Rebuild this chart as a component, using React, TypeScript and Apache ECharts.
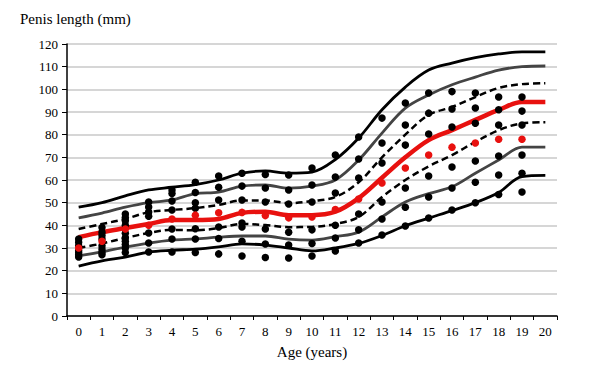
import React, { useEffect, useRef } from "react";
import * as echarts from "echarts";

const ages = ["0","1","2","3","4","5","6","7","8","9","10","11","12","13","14","15","16","17","18","19","20"];
const yTicks = { min: 0, max: 120, interval: 10 };

const p97 = [48, 50, 53, 55.6, 56.8, 58, 60, 63, 64, 63, 63.5, 69, 78.5, 91, 101, 108.5, 111.6, 114, 115.6, 116.5, 116.5];
const p90 = [43.3, 45.4, 48, 50, 51.2, 54, 54.7, 57.3, 57.8, 56.4, 57.3, 60, 68.8, 80.7, 91.7, 97.5, 102, 105.4, 108.5, 110, 110.3];
const p75 = [38.4, 40.6, 42.8, 45.8, 46.8, 47.6, 49, 51, 51, 49.8, 50.7, 52.5, 59, 70, 80, 88.7, 92.2, 96.6, 100.6, 102.3, 102.7];
const p50 = [34.8, 37, 38.8, 40.6, 42.3, 42.3, 42.8, 45.5, 46, 44.5, 44.5, 46, 52, 61, 70, 77.6, 82, 86.5, 90.9, 94.4, 94.4];
const p25 = [30, 32, 34.4, 36.6, 38, 37.8, 38.8, 40.6, 40.1, 39.2, 39.3, 40.6, 43.7, 52.5, 60, 66, 71, 76.8, 82, 85, 85.5];
const p10 = [26.5, 28.3, 30.4, 32.2, 33.5, 34, 34.8, 35.3, 35.3, 33.9, 33.5, 35, 37, 43.7, 50.3, 54, 57, 63, 68.8, 74.5, 74.5];
const p3 = [22, 24.3, 26, 28.2, 29, 29.5, 30.5, 31.8, 31.3, 30, 28.7, 30, 32, 35.5, 39.8, 43.2, 46.5, 50, 54.5, 61.5, 62];

const blackDots: number[][] = [
  [34, 32.5, 31, 29, 28, 27, 26],
  [39, 37, 35.5, 34, 31, 29.5, 28, 27],
  [45, 43.5, 42, 40, 36.5, 34.5, 33, 31.5, 30, 28],
  [50.3, 48.1, 45.9, 44, 36.6, 32.2, 28.2],
  [55.6, 54, 50.7, 46.8, 38.4, 34, 28.2],
  [59, 54.5, 50, 47.5, 38.5, 34, 28],
  [61.8, 56.8, 51.2, 39.3, 34.2, 27.4],
  [63, 57.3, 51.2, 41, 39.3, 33, 26.5],
  [62.4, 56.5, 50.3, 38.4, 31.8, 25.8],
  [62.2, 55.6, 49.4, 37, 31.3, 25.6],
  [65.3, 57.8, 50.3, 38, 32, 26.5],
  [71, 61.3, 54.3, 40, 34.4, 28.7],
  [79, 69.3, 60.9, 45, 38, 32.2],
  [87.3, 76.3, 67.5, 50.3, 42.8, 35.7],
  [94, 84.3, 75.4, 56.5, 48, 39.7],
  [98.4, 89.5, 80.3, 61.8, 52.5, 43.2],
  [99, 91.3, 83.4, 65.7, 56.5, 46.8],
  [98.4, 91.8, 85, 68.4, 59, 50],
  [96.6, 91, 84.3, 70.6, 62.2, 53.6],
  [96.6, 90.4, 84.3, 71, 63, 54.7],
  [],
];
const redDots = [30, 33, 38.4, 40, 42.8, 44.5, 45.5, 45.7, 44.3, 43.3, 43.7, 47, 51.6, 58.7, 65.3, 71, 74.5, 76.3, 78, 78];

export default function App() {
  const ref = useRef<HTMLDivElement>(null);
  useEffect(() => {
    if (!ref.current) return;
    const chart = echarts.init(ref.current, null, { renderer: "svg" });
    const font = "'Liberation Serif', 'Times New Roman', serif";
    const line = (name: string, data: number[], color: string, width: number, type: any = "solid") => ({
      name,
      type: "line",
      data,
      smooth: 0.35,
      symbol: "none",
      lineStyle: { color, width, type },
      z: 2,
    });
    const blackData: number[][] = [];
    blackDots.forEach((arr, i) => arr.forEach((v) => blackData.push([i, v])));
    const redData = redDots.map((v, i) => [i, v]);
    chart.setOption({
      animation: false,
      backgroundColor: "#fff",
      grid: { left: 67, right: 43, top: 44, bottom: 60 },
      xAxis: {
        type: "category",
        data: ages,
        boundaryGap: true,
        name: "Age (years)",
        nameLocation: "middle",
        nameGap: 28,
        nameTextStyle: { fontFamily: font, fontSize: 15, color: "#000" },
        axisLine: { lineStyle: { color: "#000", width: 1.5 } },
        axisTick: { show: true, length: 4, lineStyle: { color: "#000" }, alignWithLabel: false },
        axisLabel: { fontFamily: font, fontSize: 13, color: "#000", margin: 9, interval: 0 },
        splitLine: { show: false },
      },
      yAxis: {
        type: "value",
        min: yTicks.min,
        max: yTicks.max,
        interval: yTicks.interval,
        axisLine: { show: true, lineStyle: { color: "#000", width: 1.5 } },
        axisTick: { show: true, length: 5, lineStyle: { color: "#000" } },
        axisLabel: { fontFamily: font, fontSize: 13, color: "#000", margin: 9 },
        splitLine: { lineStyle: { color: "#c8c8c8", width: 1.5 } },
      },
      graphic: [
        {
          type: "text",
          left: 20,
          top: 11,
          style: { text: "Penis length (mm)", font: `15px ${font}`, fill: "#000" },
        },
      ],
      series: [
        line("P3", p3, "#000", 2.8),
        line("P10", p10, "#444", 2.8),
        line("P25", p25, "#000", 2.5, [7, 4]),
        line("P50", p50, "#e8110f", 4.5),
        line("P75", p75, "#000", 2.5, [7, 4]),
        line("P90", p90, "#444", 2.8),
        line("P97", p97, "#000", 2.8),
        {
          name: "Measured",
          type: "scatter",
          data: blackData,
          symbolSize: 7.5,
          itemStyle: { color: "#000", opacity: 1 },
          z: 3,
        },
        {
          name: "Measured median",
          type: "scatter",
          data: redData,
          symbolSize: 7.5,
          itemStyle: { color: "#e8110f", opacity: 1 },
          z: 4,
        },
      ],
    });
    return () => chart.dispose();
  }, []);
  return <div ref={ref} style={{ width: 600, height: 376, position: "absolute", left: 0, top: 0 }} />;
}
